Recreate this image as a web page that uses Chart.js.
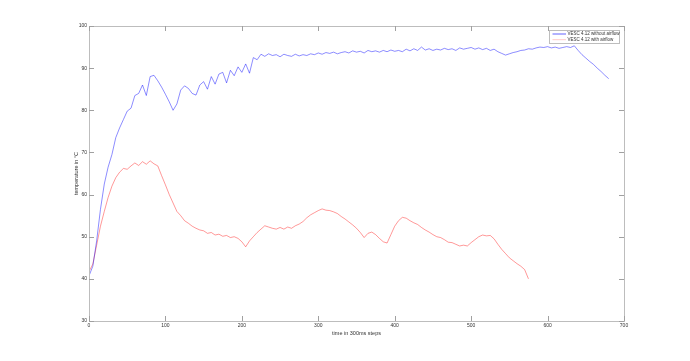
<!DOCTYPE html>
<html><head><meta charset="utf-8">
<script src="https://cdn.jsdelivr.net/npm/chart.js@4/dist/chart.umd.min.js"></script>
<style>html,body{margin:0;padding:0;background:#fff;}#wrap{width:690px;height:361px;}</style>
</head><body><div id="wrap"><canvas id="c" width="690" height="361"></canvas></div>
<script>
const seriesNames = ["VESC 4.12 without airflow", "VESC 4.12 with airflow"];
const xTickValues = [0,100,200,300,400,500,600,700];
const yTickValues = [30,40,50,60,70,80,90,100];
const timeSteps = [0,5,10,15,20,25,30,35,40,45,50,55,60,65,70,75,80,85,90,95,
100,105,110,115,120,125,130,135,140,145,150,155,160,165,170,175,180,185,190,195,
200,205,210,215,220,225,230,235,240,245,250,255,260,265,270,275,280,285,290,295,
300,305,310,315,320,325,330,335,340,345,350,355,360,365,370,375,380,385,390,395,
400,405,410,415,420,425,430,435,440,445,450,455,460,465,470,475,480,485,490,495,
500,505,510,515,520,525,530,535,540,545,550,555,560,565,570,575,580,585,590,595,
600,605,610,615,620,625,630,635,640,645,650,655,660,665,670,675,680];
const tempNoAirflow = [40.7,43.0,49.0,56.5,62.5,66.5,69.5,73.5,75.8,77.8,
79.8,80.5,83.5,84.0,86.0,83.5,88.0,88.3,87.0,85.5,
83.8,82.0,80.0,81.5,84.8,85.8,85.2,84.0,83.6,86.0,
86.8,85.0,88.0,86.2,88.6,89.0,86.5,89.5,88.2,90.3,
89.0,91.0,88.8,92.5,92.0,93.3,92.8,93.4,93.0,93.2,
92.7,93.3,93.0,92.8,93.3,92.9,93.2,93.0,93.4,93.2,
93.6,93.3,93.7,93.5,93.8,93.4,93.7,93.9,93.6,94.1,
93.8,94.0,93.6,94.2,93.9,94.1,93.8,94.2,93.9,94.3,
94.0,94.2,93.9,94.5,94.1,94.6,94.2,95.0,94.3,94.6,
94.2,94.5,94.3,94.7,94.4,94.6,94.2,94.8,94.5,94.7,
94.9,94.5,94.8,94.4,94.7,94.2,94.5,93.9,93.5,93.1,
93.4,93.7,93.9,94.2,94.3,94.6,94.5,94.8,95.0,94.9,
95.1,94.8,95.0,94.7,94.9,95.1,94.9,95.3,94.2,93.2,
92.4,91.6,90.9,90.0,89.2,88.3,87.5];
const tempWithAirflow = [41.7,43.5,48.0,52.5,56.0,59.3,62.0,64.0,65.3,66.2,
66.0,66.8,67.5,66.9,67.8,67.2,68.0,67.3,66.8,64.5,
62.3,60.0,58.0,56.0,55.0,53.8,53.2,52.5,52.0,51.6,
51.4,50.8,51.0,50.4,50.6,50.1,50.3,49.8,50.0,49.6,
48.8,47.6,49.0,50.0,51.0,51.8,52.6,52.3,52.0,51.8,
52.2,51.8,52.3,52.0,52.6,53.0,53.6,54.5,55.2,55.7,
56.2,56.6,56.3,56.2,55.9,55.5,54.8,54.2,53.5,52.8,
52.0,51.0,49.8,50.8,51.1,50.5,49.6,48.8,48.5,50.5,
52.5,53.8,54.6,54.4,53.8,53.3,52.9,52.2,51.6,51.1,
50.5,50.0,49.8,49.3,48.7,48.6,48.2,47.8,48.0,47.8,
48.6,49.3,50.0,50.4,50.2,50.3,49.5,48.2,47.0,46.0,
45.0,44.3,43.6,43.0,42.2,40.0];

const toPoints = (ys) => ys.map((y, i) => ({x: timeSteps[i], y: y}));

const boxPlugin = {
  id: 'matlabBox',
  afterDatasetsDraw(chart) {
    const {ctx, chartArea: a, scales: {x, y}} = chart;
    ctx.save();
    ctx.strokeStyle = '#bdbdbd';
    ctx.lineWidth = 1;
    ctx.strokeRect(Math.round(a.left) + 0.5, Math.round(a.top) + 0.5, Math.round(a.right - a.left), Math.round(a.bottom - a.top));
    ctx.strokeStyle = '#a0a0a0';
    ctx.beginPath();
    xTickValues.forEach(v => {
      const px = Math.round(x.getPixelForValue(v)) + 0.5;
      ctx.moveTo(px, a.bottom); ctx.lineTo(px, a.bottom - 5);
      ctx.moveTo(px, a.top); ctx.lineTo(px, a.top + 5);
    });
    yTickValues.forEach(v => {
      const py = Math.round(y.getPixelForValue(v)) + 0.5;
      ctx.moveTo(a.left, py); ctx.lineTo(a.left + 5, py);
      ctx.moveTo(a.right, py); ctx.lineTo(a.right - 5, py);
    });
    ctx.stroke();
    const lx = a.right - 75, ly = a.top + 4, lw = 70, lh = 13;
    ctx.fillStyle = '#fff';
    ctx.fillRect(lx, ly, lw, lh);
    ctx.strokeStyle = '#bdbdbd';
    ctx.strokeRect(Math.round(lx) + 0.5, Math.round(ly) + 0.5, lw, lh);
    const colors = ['rgba(60,60,255,0.8)', 'rgba(255,80,80,0.3)'];
    ctx.font = '4.5px "Liberation Sans", Arial, sans-serif';
    ctx.textBaseline = 'middle';
    ctx.textAlign = 'left';
    seriesNames.forEach((name, i) => {
      const yy = ly + 4 + i * 5.7;
      ctx.strokeStyle = colors[i];
      ctx.lineWidth = 1;
      ctx.beginPath();
      ctx.moveTo(lx + 3.5, yy); ctx.lineTo(lx + 17, yy);
      ctx.stroke();
      ctx.fillStyle = '#333';
      ctx.fillText(name, lx + 18.5, yy);
    });
    ctx.restore();
  }
};

new Chart(document.getElementById('c'), {
  type: 'line',
  data: {
    datasets: [
      {label: seriesNames[0], data: toPoints(tempNoAirflow), borderColor: 'rgba(0,0,255,0.5)', borderWidth: 0.9, pointRadius: 0, tension: 0, fill: false},
      {label: seriesNames[1], data: toPoints(tempWithAirflow), borderColor: 'rgba(255,0,0,0.45)', borderWidth: 0.9, pointRadius: 0, tension: 0, fill: false}
    ]
  },
  options: {
    responsive: false,
    animation: false,
    devicePixelRatio: 1,
    layout: {padding: {left: 71, right: 66, top: 26, bottom: 24}},
    plugins: {legend: {display: false}, tooltip: {enabled: false}},
    scales: {
      x: {
        type: 'linear', min: 0, max: 700,
        afterFit(s) { s.height = 16; },
        afterBuildTicks(s) { s.ticks = xTickValues.map(v => ({value: v})); },
        grid: {display: false, drawTicks: false},
        border: {display: false},
        ticks: {font: {size: 5, family: '"Liberation Sans", Arial, sans-serif'}, color: '#333', padding: 2, maxRotation: 0, autoSkip: false},
        title: {display: true, text: 'time in 300ms steps', font: {size: 5.5, family: '"Liberation Sans", Arial, sans-serif'}, color: '#333', padding: 0}
      },
      y: {
        type: 'linear', min: 30, max: 100,
        afterFit(s) { s.width = 18; },
        afterBuildTicks(s) { s.ticks = yTickValues.map(v => ({value: v})); },
        grid: {display: false, drawTicks: false},
        border: {display: false},
        ticks: {font: {size: 5, family: '"Liberation Sans", Arial, sans-serif'}, color: '#333', padding: 2, autoSkip: false},
        title: {display: true, text: 'temperature in °C', font: {size: 5.5, family: '"Liberation Sans", Arial, sans-serif'}, color: '#333', padding: {top: 2, bottom: 0}}
      }
    }
  },
  plugins: [boxPlugin]
});
</script>
</body></html>
